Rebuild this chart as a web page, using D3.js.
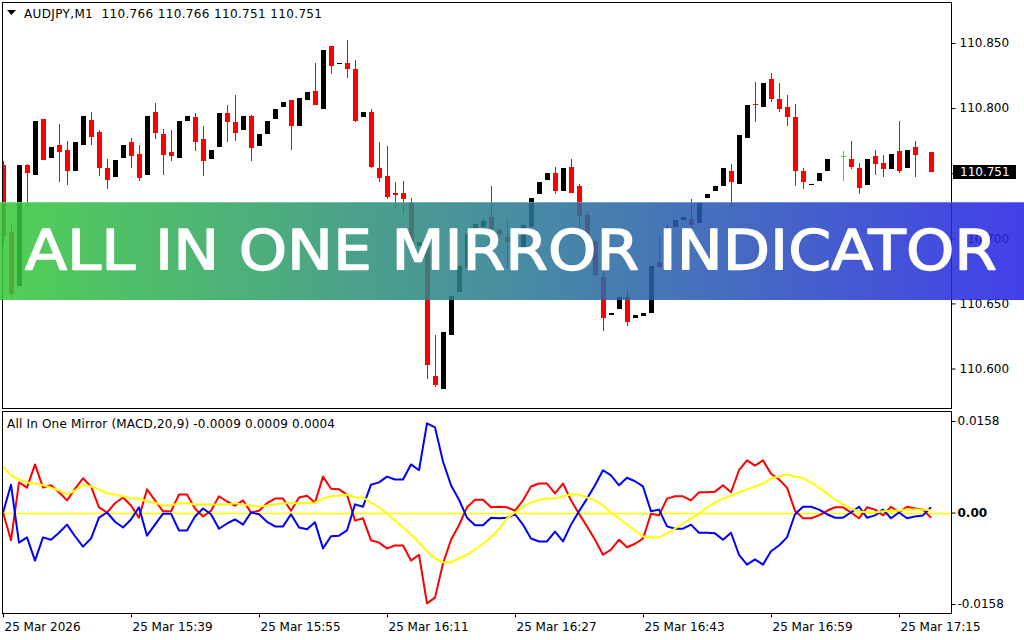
<!DOCTYPE html>
<html>
<head>
<meta charset="utf-8">
<script src="https://d3js.org/d3.v7.min.js"></script>
<style>
    html, body { margin: 0; padding: 0; background: #ffffff; }
    svg { display: block; }
    text { font-family: "DejaVu Sans", sans-serif; }
</style>
</head>
<body>
<div id="chart"></div>
<script>
// AUDJPY M1 bars, one per minute from 25 Mar 15:23 (null = empty slot)
const opens = [110.756,110.705,110.663,110.756,110.749,110.792,110.762,110.772,110.768,110.752,
    110.772,110.791,110.782,110.754,110.747,110.762,110.774,110.765,110.749,110.797,
    110.780,110.766,110.762,110.790,110.793,110.776,110.761,110.770,110.796,110.789,
    110.783,110.794,110.771,110.780,110.792,110.801,110.806,110.786,110.806,110.813,
    110.799,110.848,110.834,110.835,110.830,110.793,110.797,110.754,110.748,110.735,
    110.735,110.728,110.694,110.693,110.594,110.584,110.626,110.659,110.677,110.707,
    110.709,110.716,110.706,110.701,110.697,110.692,110.709,110.734,110.745,110.750,
    110.736,110.755,110.740,110.718,110.698,110.670,110.641,110.646,110.655,110.639,
    110.640,110.643,110.682,110.682,110.709,110.714,110.715,110.712,110.731,110.736,
    110.740,110.752,110.742,110.777,110.803,110.801,110.822,110.807,110.801,110.793,
    110.752,110.741,110.744,110.752,null,110.763,110.761,110.754,110.741,110.763,
    110.758,110.753,110.767,110.754,110.770,null,110.766];
const highs = [110.759,110.712,110.756,110.757,110.790,110.792,110.770,110.788,110.775,110.774,
    110.794,110.797,110.783,110.761,110.760,110.772,110.777,110.772,110.794,110.804,
    110.784,110.783,110.790,110.794,110.796,110.786,110.768,110.796,110.802,110.810,
    110.794,110.795,110.780,110.790,110.799,110.805,110.806,110.808,110.812,110.835,
    110.845,110.848,110.835,110.852,110.837,110.797,110.799,110.774,110.771,110.743,
    110.744,110.731,110.697,110.695,110.626,110.628,110.656,110.679,110.703,110.711,
    110.715,110.740,110.708,110.714,110.700,110.710,110.731,110.743,110.750,110.755,
    110.754,110.761,110.742,110.720,110.699,110.675,110.643,110.655,110.660,110.641,
    110.643,110.679,110.702,110.710,110.714,110.716,110.730,110.727,110.734,110.740,
    110.754,110.757,110.779,110.802,110.820,110.819,110.827,110.819,110.810,110.803,
    110.754,110.742,110.750,110.761,null,110.767,110.775,110.758,110.761,110.768,
    110.764,110.765,110.790,110.768,110.775,null,110.766];
const lows = [110.695,110.654,110.663,110.724,110.749,110.760,110.762,110.743,110.741,110.752,
    110.772,110.772,110.748,110.738,110.747,110.762,110.754,110.744,110.749,110.776,
    110.749,110.759,110.762,110.790,110.767,110.748,110.761,110.770,110.774,110.775,
    110.783,110.759,110.771,110.780,110.792,110.801,110.768,110.786,110.806,110.802,
    110.799,110.826,110.834,110.823,110.789,110.793,110.754,110.743,110.730,110.723,
    110.719,110.697,110.694,110.592,110.586,110.584,110.626,110.659,110.677,110.707,
    110.707,110.705,110.700,110.677,110.688,110.692,110.709,110.734,110.745,110.734,
    110.736,110.735,110.701,110.696,110.670,110.629,110.641,110.646,110.633,110.639,
    110.640,110.643,110.677,110.680,110.709,110.714,110.706,110.712,110.731,110.736,
    110.740,110.724,110.742,110.777,110.789,110.801,110.805,110.797,110.786,110.740,
    110.738,110.741,110.744,110.752,null,110.744,110.753,110.734,110.741,110.749,
    110.747,110.753,110.750,110.754,110.747,null,110.751];
const closes = [110.702,110.657,110.756,110.750,110.790,110.760,110.770,110.766,110.752,110.774,
    110.794,110.778,110.754,110.745,110.760,110.772,110.763,110.746,110.794,110.781,
    110.764,110.763,110.790,110.794,110.774,110.759,110.768,110.796,110.789,110.781,
    110.794,110.769,110.780,110.790,110.799,110.805,110.786,110.808,110.812,110.802,
    110.845,110.832,110.835,110.830,110.790,110.797,110.755,110.746,110.732,110.733,
    110.730,110.697,110.697,110.603,110.587,110.628,110.656,110.679,110.703,110.711,
    110.713,110.707,110.703,110.697,110.692,110.710,110.731,110.743,110.750,110.736,
    110.754,110.735,110.717,110.698,110.672,110.639,110.643,110.655,110.636,110.641,
    110.643,110.679,110.678,110.708,110.714,110.716,110.710,110.727,110.734,110.740,
    110.754,110.743,110.779,110.802,110.802,110.819,110.807,110.799,110.793,110.752,
    110.743,110.742,110.750,110.761,null,110.763,110.755,110.739,110.761,110.757,
    110.753,110.765,110.752,110.768,110.764,null,110.751];

// All In One Mirror (MACD,20,9) buffers
const macdRed = [0,-0.0048,0.0052,0.0043,0.0083,0.0043,0.0047,0.0035,0.0021,0.0041,
    0.0059,0.0045,0.0009,0,0.0016,0.0026,0.0012,-0.0009,0.0040,0.0021,
    0.0002,0.0002,0.0031,0.0031,0.0007,-0.0007,0.0003,0.0028,0.0019,0.0012,
    0.0021,0,0.0003,0.0016,0.0024,0.0024,0.0003,0.0026,0.0029,0.0017,
    0.0062,0.0041,0.0040,0.0031,-0.0014,-0.0010,-0.0048,-0.0052,-0.0062,-0.0057,
    -0.0057,-0.0083,-0.0073,-0.0157,-0.0147,-0.0088,-0.0047,-0.0022,0.0009,0.0022,
    0.0022,0.0009,0.0010,0.0009,0.0003,0.0021,0.0045,0.0050,0.0050,0.0033,
    0.0050,0.0021,-0.0002,-0.0024,-0.0047,-0.0073,-0.0064,-0.0047,-0.0060,-0.0054,
    -0.0045,-0.0002,-0.0005,0.0024,0.0028,0.0028,0.0021,0.0035,0.0035,0.0036,
    0.0047,0.0035,0.0073,0.0090,0.0081,0.0090,0.0067,0.0057,0.0043,0.0003,
    -0.0010,-0.0010,-0.0005,0.0003,0.0009,0.0009,0,-0.0010,0.0009,0.0005,
    -0.0005,0.0010,0,0.0010,0.0007,0.0005,-0.0009];
const macdBlue = [0,0.0048,-0.0052,-0.0043,-0.0083,-0.0043,-0.0047,-0.0035,-0.0021,-0.0041,
    -0.0059,-0.0045,-0.0009,0,-0.0016,-0.0026,-0.0012,0.0009,-0.0040,-0.0021,
    -0.0002,-0.0002,-0.0031,-0.0031,-0.0007,0.0007,-0.0003,-0.0028,-0.0019,-0.0012,
    -0.0021,0,-0.0003,-0.0016,-0.0024,-0.0024,-0.0003,-0.0026,-0.0029,-0.0017,
    -0.0062,-0.0041,-0.0040,-0.0031,0.0014,0.0010,0.0048,0.0052,0.0062,0.0057,
    0.0057,0.0083,0.0073,0.0154,0.0147,0.0088,0.0047,0.0022,-0.0009,-0.0022,
    -0.0022,-0.0009,-0.0010,-0.0009,-0.0003,-0.0021,-0.0045,-0.0050,-0.0050,-0.0033,
    -0.0050,-0.0021,0.0002,0.0024,0.0047,0.0073,0.0064,0.0047,0.0060,0.0054,
    0.0045,0.0002,0.0005,-0.0024,-0.0028,-0.0028,-0.0021,-0.0035,-0.0035,-0.0036,
    -0.0047,-0.0035,-0.0073,-0.0090,-0.0081,-0.0090,-0.0067,-0.0057,-0.0043,-0.0003,
    0.0010,0.0010,0.0005,-0.0003,-0.0009,-0.0009,0,0.0010,-0.0009,-0.0005,
    0.0005,-0.0010,0,-0.0010,-0.0007,-0.0005,0.0009];
const signal = [0.0079,0.0064,0.0057,0.0052,0.0050,0.0047,0.0043,0.0038,0.0031,0.0038,
    0.0048,0.0045,0.0040,0.0033,0.0031,0.0028,0.0024,0.0024,0.0019,0.0017,
    0.0012,0.0012,0.0016,0.0016,0.0014,0.0014,0.0014,0.0014,0.0014,0.0016,
    0.0014,0.0012,0.0010,0.0012,0.0014,0.0016,0.0016,0.0016,0.0016,0.0017,
    0.0024,0.0028,0.0029,0.0031,0.0026,0.0026,0.0017,0.0009,-0.0002,-0.0014,
    -0.0026,-0.0038,-0.0052,-0.0067,-0.0079,-0.0086,-0.0086,-0.0079,-0.0073,-0.0064,
    -0.0054,-0.0043,-0.0029,-0.0010,0,0.0010,0.0017,0.0022,0.0024,0.0024,
    0.0028,0.0031,0.0031,0.0026,0.0021,0.0012,0,-0.0010,-0.0021,-0.0031,
    -0.0041,-0.0043,-0.0043,-0.0036,-0.0028,-0.0019,-0.0010,-0.0002,0.0009,0.0017,
    0.0024,0.0029,0.0035,0.0040,0.0045,0.0050,0.0059,0.0062,0.0066,0.0062,
    0.0059,0.0052,0.0043,0.0033,0.0022,0.0014,0.0007,0.0002,0,0,
    0.0002,0.0003,0.0003,0.0005,0.0005,0.0005,0.0004];

// axis labels
const priceTicks = [110.600, 110.650, 110.700, 110.750, 110.800, 110.850];
const indTicks = [0.0158, 0, -0.0158];
const indTickLabels = ["0.0158", "0.00", "-0.0158"];
const timeTickBars = [0, 16, 32, 48, 64, 80, 96, 112];
const timeTickLabels = ["25 Mar 2026", "25 Mar 15:39", "25 Mar 15:55", "25 Mar 16:11",
    "25 Mar 16:27", "25 Mar 16:43", "25 Mar 16:59", "25 Mar 17:15"];

const headerText = "AUDJPY,M1  110.766 110.766 110.751 110.751";
const indText = "All In One Mirror (MACD,20,9) -0.0009 0.0009 0.0004";
const bannerText = "ALL IN ONE MIRROR INDICATOR";

const width = 1024, height = 640;
const plotLeft = 3, plotRight = 952;
const mainTop = 3, mainBottom = 408.5;
const indTop = 411.5, indBottom = 613.5;

const svg = d3.select("#chart").append("svg")
    .attr("width", width)
    .attr("height", height);

svg.append("rect").attr("width", width).attr("height", height).attr("fill", "#ffffff");

// scales
const xBar = d3.scaleLinear().domain([0, opens.length - 1]).range([3, 931]);
const yPrice = d3.scaleLinear().domain([110.600, 110.850]).range([368.5, 43]);
const yInd = d3.scaleLinear().domain([-0.0158, 0.0158]).range([604, 421]);

const defs = svg.append("defs");
defs.append("clipPath").attr("id", "clip-main").append("rect")
    .attr("x", plotLeft).attr("y", mainTop).attr("width", plotRight - plotLeft).attr("height", mainBottom - mainTop);
defs.append("clipPath").attr("id", "clip-ind").append("rect")
    .attr("x", plotLeft).attr("y", indTop).attr("width", plotRight - plotLeft).attr("height", indBottom - indTop);

// candles
const candleGroup = svg.append("g").attr("clip-path", "url(#clip-main)")
    .attr("shape-rendering", "crispEdges");

opens.forEach((o, i) => {
    if (o === null) return;
    const c = closes[i];
    const cx = Math.round(xBar(i));
    const color = c === o ? "#00ff00" : (c > o ? "#000000" : "#ff0000");
    const yHigh = Math.round(yPrice(highs[i]));
    const yLow = Math.round(yPrice(lows[i]));
    candleGroup.append("rect")
        .attr("x", cx).attr("y", yHigh)
        .attr("width", 1).attr("height", Math.max(1, yLow - yHigh))
        .attr("fill", color);
    const yTop = Math.round(yPrice(Math.max(o, c)));
    const yBot = Math.round(yPrice(Math.min(o, c)));
    candleGroup.append("rect")
        .attr("x", cx - 2).attr("y", yTop)
        .attr("width", 5).attr("height", Math.max(1, yBot - yTop))
        .attr("fill", color);
});

// indicator lines
const indGroup = svg.append("g").attr("clip-path", "url(#clip-ind)");

indGroup.append("line")
    .attr("x1", plotLeft).attr("x2", plotRight)
    .attr("y1", Math.round(yInd(0)) + 0.5).attr("y2", Math.round(yInd(0)) + 0.5)
    .attr("stroke", "#ffff00").attr("stroke-width", 1.5);

const indLine = d3.line()
    .x((d, i) => xBar(i))
    .y(d => yInd(d));

[[macdRed, "#ff0000"], [macdBlue, "#0000ff"], [signal, "#ffff00"]].forEach(([series, color]) => {
    indGroup.append("path")
        .attr("d", indLine(series))
        .attr("fill", "none")
        .attr("stroke", color)
        .attr("stroke-width", 2)
        .attr("stroke-linejoin", "round");
});

// panel frames
svg.append("rect")
    .attr("x", 2.5).attr("y", 2.5).attr("width", plotRight - 3).attr("height", mainBottom - 2.5)
    .attr("fill", "none").attr("stroke", "#000000");
svg.append("rect")
    .attr("x", 2.5).attr("y", indTop).attr("width", plotRight - 3).attr("height", indBottom - indTop)
    .attr("fill", "none").attr("stroke", "#000000");

// right price axis
const priceAxis = svg.append("g")
    .attr("transform", `translate(${plotRight - 0.5},0)`)
    .call(d3.axisRight(yPrice).tickValues(priceTicks).tickSize(4).tickFormat(d3.format(".3f")));
priceAxis.select(".domain").remove();
priceAxis.selectAll("text").attr("x", 8).attr("font-size", 12)
    .attr("font-family", "DejaVu Sans").attr("fill", "#000000");

// current price tag
const lastClose = closes[closes.length - 1];
svg.append("rect")
    .attr("x", 953).attr("y", Math.round(yPrice(lastClose)) - 7)
    .attr("width", 63).attr("height", 14).attr("fill", "#000000");
svg.append("text")
    .attr("x", 960).attr("y", yPrice(lastClose)).attr("dy", "0.36em")
    .attr("font-size", 12).attr("fill", "#ffffff")
    .text(d3.format(".3f")(lastClose));

// indicator axis
const indAxis = svg.append("g")
    .attr("transform", `translate(${plotRight - 0.5},0)`)
    .call(d3.axisRight(yInd).tickValues(indTicks).tickSize(4).tickFormat((d, i) => indTickLabels[i]));
indAxis.select(".domain").remove();
indAxis.selectAll("text").attr("x", 6).attr("font-size", 12)
    .attr("font-family", "DejaVu Sans").attr("fill", "#000000")
    .attr("font-weight", (d, i) => indTicks[i] === 0 ? "bold" : "normal");

// time axis
const timeAxis = svg.append("g")
    .attr("transform", `translate(0,${indBottom})`)
    .call(d3.axisBottom(xBar).tickValues(timeTickBars).tickSize(4).tickFormat((d, i) => timeTickLabels[i]));
timeAxis.select(".domain").remove();
timeAxis.selectAll("text")
    .attr("text-anchor", "start").attr("x", 1).attr("y", 9)
    .attr("font-size", 12).attr("font-family", "DejaVu Sans").attr("fill", "#000000");

// header
svg.append("path").attr("d", "M7,10L16,10L11.5,15Z").attr("fill", "#000000");
svg.append("text").attr("x", 24).attr("y", 18).attr("font-size", 12)
    .attr("textLength", 298).attr("lengthAdjust", "spacing")
    .attr("xml:space", "preserve").style("white-space", "pre")
    .text(headerText);
svg.append("text").attr("x", 7).attr("y", 428).attr("font-size", 12)
    .attr("textLength", 328).attr("lengthAdjust", "spacing")
    .text(indText);

// banner overlay
const grad = defs.append("linearGradient").attr("id", "banner-grad")
    .attr("x1", "0%").attr("x2", "100%").attr("y1", "0%").attr("y2", "0%");
grad.append("stop").attr("offset", "0%").attr("stop-color", "#36c83a");
grad.append("stop").attr("offset", "50%").attr("stop-color", "#2a7a92");
grad.append("stop").attr("offset", "100%").attr("stop-color", "#2420e6");

svg.append("rect")
    .attr("x", 0).attr("y", 202).attr("width", width).attr("height", 98)
    .attr("fill", "url(#banner-grad)").attr("opacity", 0.86);
svg.append("rect")
    .attr("x", 0).attr("y", 202).attr("width", width).attr("height", 1)
    .attr("fill", "#ffffff").attr("opacity", 0.25);

svg.append("text")
    .attr("x", 25).attr("y", 269)
    .attr("font-family", "'Open Sans', sans-serif")
    .attr("font-size", 56).attr("font-weight", 400)
    .attr("fill", "#ffffff")
    .attr("stroke", "#ffffff").attr("stroke-width", 1.4).attr("stroke-linejoin", "round")
    .attr("textLength", 972).attr("lengthAdjust", "spacingAndGlyphs")
    .text(bannerText);
</script>
</body>
</html>
